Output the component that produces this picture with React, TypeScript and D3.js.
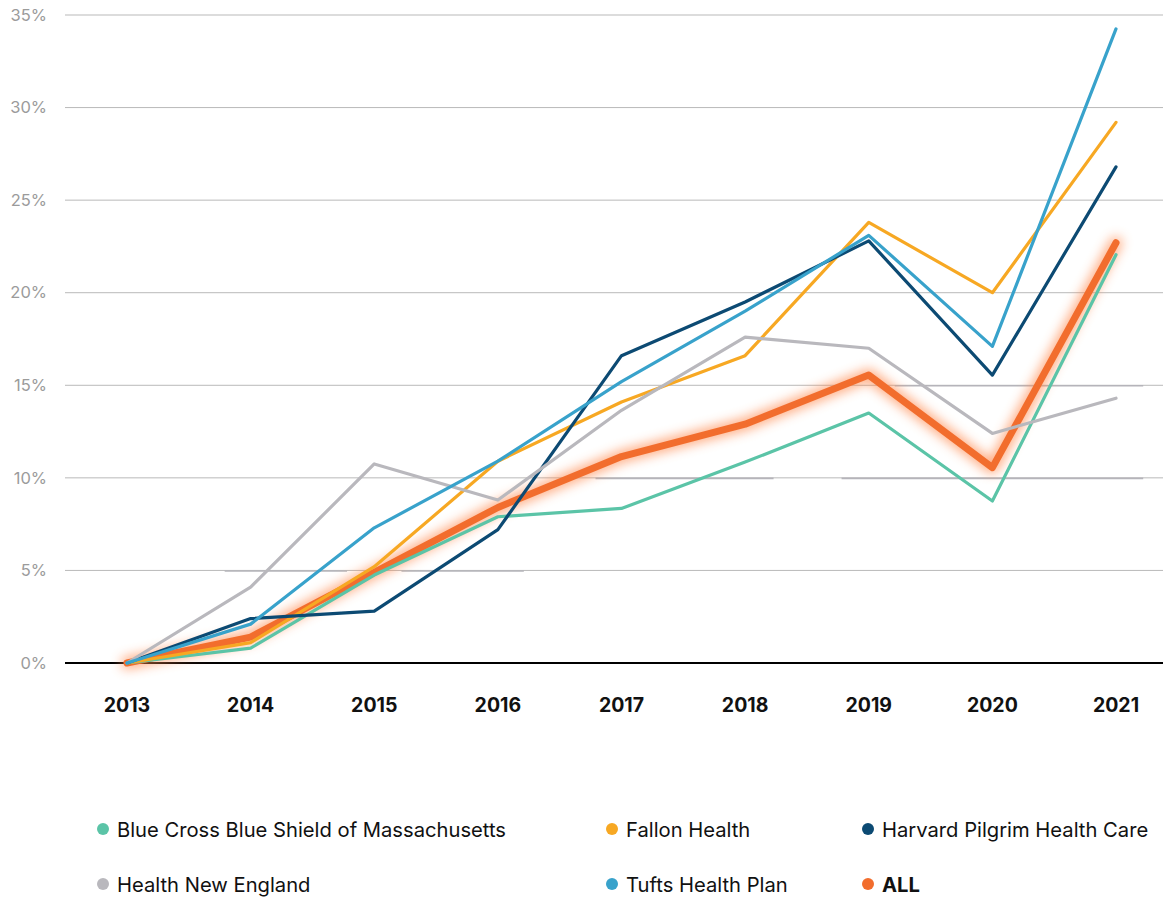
import * as d3 from "d3";

const years = [2013, 2014, 2015, 2016, 2017, 2018, 2019, 2020, 2021];
const yTicks = [0, 5, 10, 15, 20, 25, 30, 35];

const bcbs = [0, 0.8, 4.75, 7.9, 8.35, 10.85, 13.5, 8.75, 22.05];
const fallon = [0, 1.1, 5.2, 10.9, 14.1, 16.6, 23.8, 20.0, 29.2];
const harvard = [0, 2.4, 2.8, 7.2, 16.6, 19.5, 22.8, 15.55, 26.8];
const hne = [0, 4.1, 10.75, 8.8, 13.65, 17.6, 17.0, 12.4, 14.3];
const tufts = [0, 2.1, 7.3, 10.9, 15.2, 19.0, 23.1, 17.1, 34.25];
const all = [0, 1.4, 4.9, 8.4, 11.15, 12.9, 15.55, 10.55, 22.7];

// darker gridline pieces seen in the original rendering [value, fromYear, toYear]
const gridPieces: [number, number, number][] = [
  [5, 2013.79, 2014.78],
  [5, 2015.22, 2016.21],
  [10, 2016.79, 2018.23],
  [10, 2018.78, 2021.22],
  [15, 2019.21, 2021.22],
];

const series = [
  { name: "Blue Cross Blue Shield of Massachusetts", values: bcbs, color: "#5bc4a7" },
  { name: "Fallon Health", values: fallon, color: "#f7a823" },
  { name: "Harvard Pilgrim Health Care", values: harvard, color: "#0c4a73" },
  { name: "Health New England", values: hne, color: "#b9b8bd" },
  { name: "Tufts Health Plan", values: tufts, color: "#38a2cb" },
];
const allColor = "#f26d2d";

const legendOrder = [
  { name: "Blue Cross Blue Shield of Massachusetts", color: "#5bc4a7", bold: false },
  { name: "Fallon Health", color: "#f7a823", bold: false },
  { name: "Harvard Pilgrim Health Care", color: "#0c4a73", bold: false },
  { name: "Health New England", color: "#b9b8bd", bold: false },
  { name: "Tufts Health Plan", color: "#38a2cb", bold: false },
  { name: "ALL", color: allColor, bold: true },
];

const W = 1163;
const H = 898;
const font = "Inter, 'Noto Sans', sans-serif";

export default function App() {
  const x = d3.scaleLinear().domain([2013, 2021]).range([127, 1116]);
  const y = d3.scaleLinear().domain([0, 35]).range([663, 15]);
  const gridLeft = 65;
  const gridRight = W;

  const line = (vals: number[]) =>
    d3
      .line<number>()
      .x((_, i) => x(years[i]))
      .y((d) => y(d))(vals) || "";

  const legendCols = [103, 612, 868];
  const legendRows = [830, 885];

  return (
    <svg
      width={W}
      height={H}
      style={{ position: "absolute", left: 0, top: 0, background: "#fff" }}
      fontFamily={font}
    >
      <defs>
        <filter id="glow" x="-20%" y="-20%" width="140%" height="140%">
          <feGaussianBlur in="SourceGraphic" stdDeviation="6" result="blur" />
          <feComponentTransfer in="blur" result="soft">
            <feFuncA type="linear" slope="0.75" />
          </feComponentTransfer>
          <feMerge>
            <feMergeNode in="soft" />
          </feMerge>
        </filter>
      </defs>

      {/* gridlines */}
      {yTicks.map((t) => (
        <g key={t}>
          {t !== 0 && (
            <line
              x1={gridLeft}
              x2={gridRight}
              y1={y(t)}
              y2={y(t)}
              stroke="#b9b9b9"
              strokeWidth={1}
            />
          )}
          <text
            x={47}
            y={y(t)}
            dy="0.35em"
            textAnchor="end"
            fontSize={16.5}
            fill="#9b9b9b"
          >
            {t}%
          </text>
        </g>
      ))}
      {gridPieces.map(([v, a, b], i) => (
        <line
          key={i}
          x1={x(a)}
          x2={x(b)}
          y1={y(v) + 0.5}
          y2={y(v) + 0.5}
          stroke="#b5b4ba"
          strokeWidth={1.6}
        />
      ))}
      <line x1={gridLeft} x2={gridRight} y1={y(0)} y2={y(0)} stroke="#000" strokeWidth={2} />

      {/* x labels */}
      {years.map((yr) => (
        <text
          key={yr}
          x={x(yr)}
          y={712}
          textAnchor="middle"
          fontSize={19.5}
          fontWeight={700}
          fill="#111"
        >
          {yr}
        </text>
      ))}

      {/* ALL with glow */}
      <path
        d={line(all)}
        fill="none"
        stroke="#ff8a50"
        strokeWidth={12}
        strokeLinejoin="round"
        strokeLinecap="round"
        filter="url(#glow)"
      />
      <path
        d={line(all)}
        fill="none"
        stroke={allColor}
        strokeWidth={7}
        strokeLinejoin="round"
        strokeLinecap="round"
      />

      {series.map((s) => (
        <path
          key={s.name}
          d={line(s.values)}
          fill="none"
          stroke={s.color}
          strokeWidth={3.2}
          strokeLinejoin="round"
          strokeLinecap="round"
        />
      ))}

      {/* legend */}
      {legendOrder.map((l, i) => {
        const cx = legendCols[i % 3];
        const cy = legendRows[Math.floor(i / 3)];
        return (
          <g key={l.name}>
            <circle cx={cx} cy={cy - 1} r={6} fill={l.color} />
            <text
              x={cx + 14}
              y={cy}
              dy="0.35em"
              fontSize={20.2}
              fontWeight={l.bold ? 700 : 400}
              fill="#111"
            >
              {l.name}
            </text>
          </g>
        );
      })}
    </svg>
  );
}
